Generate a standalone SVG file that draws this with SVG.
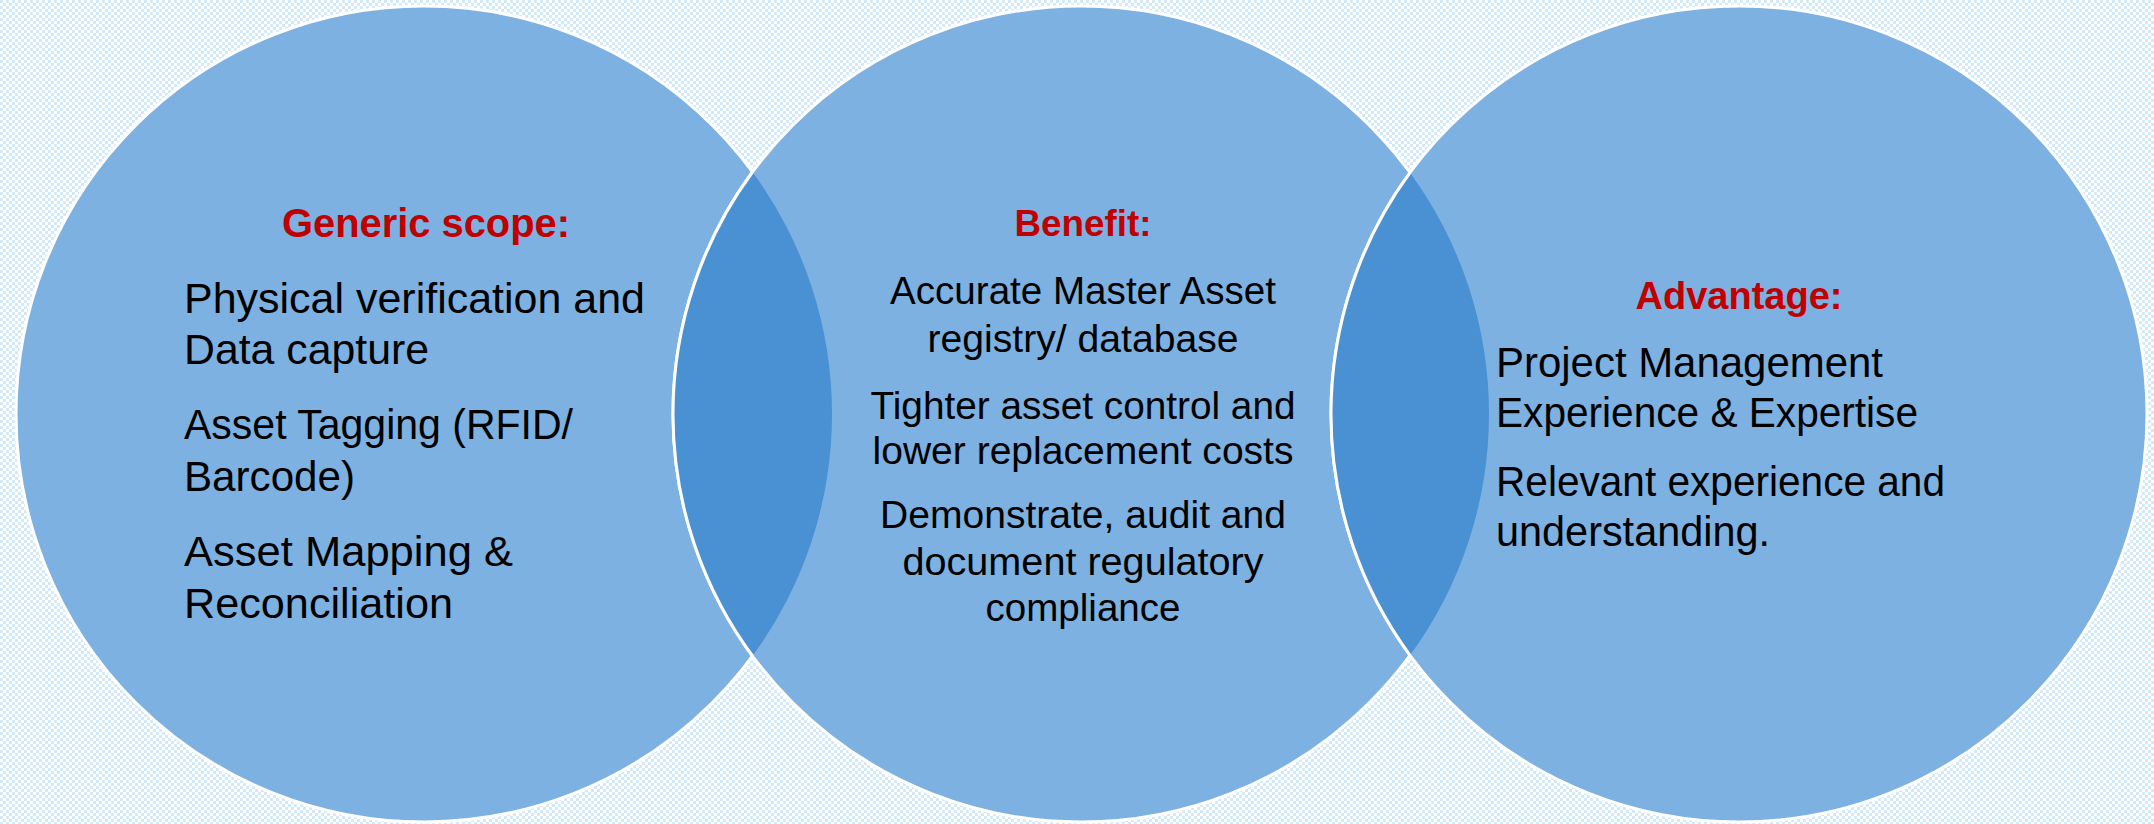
<svg xmlns="http://www.w3.org/2000/svg" width="2154" height="824" viewBox="0 0 2154 824">
  <defs>
    <pattern id="bgcheck" width="6" height="6" patternUnits="userSpaceOnUse">
      <rect width="6" height="6" fill="#ffffff"/>
      <rect width="3" height="3" fill="#d3e9f8"/>
      <rect x="3" y="3" width="3" height="3" fill="#d3e9f8"/>
    </pattern>
    <style>
      .circle { fill: #7db1e1; stroke: #ffffff; stroke-width: 3; }
      .lens { fill: #4a91d3; stroke: none; }
      .edge { fill: none; stroke: #ffffff; stroke-width: 3; }
      .head { font-family: "Liberation Sans", Arial, sans-serif; font-weight: bold; fill: #c00000; }
      .body { font-family: "Liberation Sans", Arial, sans-serif; fill: #000000; }
    </style>
  </defs>
  <rect width="2154" height="824" fill="url(#bgcheck)"/>

  <g id="circle-generic-scope">
    <circle class="circle" cx="424" cy="414" r="408"/>
  </g>
  <g id="circle-benefit">
    <circle class="circle" cx="1081" cy="414" r="408"/>
  </g>
  <g id="circle-advantage">
    <circle class="circle" cx="1739" cy="414" r="408"/>
  </g>

  <g id="overlaps">
    <path class="lens" d="M752.5,172 A408,408 0 0 0 752.5,656 A408,408 0 0 0 752.5,172 Z"/>
    <path class="edge" d="M752.5,172 A408,408 0 0 0 752.5,656"/>
    <path class="lens" d="M1410,172.7 A408,408 0 0 0 1410,655.3 A408,408 0 0 0 1410,172.7 Z"/>
    <path class="edge" d="M1410,172.7 A408,408 0 0 0 1410,655.3"/>
  </g>

  <g id="text-generic-scope">
    <text class="head" x="426" y="237" font-size="41" text-anchor="middle" textLength="288" lengthAdjust="spacingAndGlyphs">Generic scope:</text>
    <g class="body" font-size="43">
      <text x="184" y="313" textLength="461" lengthAdjust="spacingAndGlyphs">Physical verification and</text>
      <text x="184" y="364" textLength="245" lengthAdjust="spacingAndGlyphs">Data capture</text>
      <text x="184" y="439" textLength="389" lengthAdjust="spacingAndGlyphs">Asset Tagging (RFID/</text>
      <text x="184" y="491" textLength="171" lengthAdjust="spacingAndGlyphs">Barcode)</text>
      <text x="184" y="566" textLength="329" lengthAdjust="spacingAndGlyphs">Asset Mapping &amp;</text>
      <text x="184" y="618" textLength="269" lengthAdjust="spacingAndGlyphs">Reconciliation</text>
    </g>
  </g>

  <g id="text-benefit">
    <text class="head" x="1083" y="236" font-size="37" text-anchor="middle" textLength="137" lengthAdjust="spacingAndGlyphs">Benefit:</text>
    <g class="body" font-size="38" text-anchor="middle">
      <text x="1083" y="304" textLength="386" lengthAdjust="spacingAndGlyphs">Accurate Master Asset</text>
      <text x="1083" y="352" textLength="311" lengthAdjust="spacingAndGlyphs">registry/ database</text>
      <text x="1083" y="419" textLength="425" lengthAdjust="spacingAndGlyphs">Tighter asset control and</text>
      <text x="1083" y="464" textLength="421" lengthAdjust="spacingAndGlyphs">lower replacement costs</text>
      <text x="1083" y="528" textLength="406" lengthAdjust="spacingAndGlyphs">Demonstrate, audit and</text>
      <text x="1083" y="575" textLength="361" lengthAdjust="spacingAndGlyphs">document regulatory</text>
      <text x="1083" y="621" textLength="195" lengthAdjust="spacingAndGlyphs">compliance</text>
    </g>
  </g>

  <g id="text-advantage">
    <text class="head" x="1739" y="309" font-size="39" text-anchor="middle" textLength="207" lengthAdjust="spacingAndGlyphs">Advantage:</text>
    <g class="body" font-size="42">
      <text x="1496" y="377" textLength="387" lengthAdjust="spacingAndGlyphs">Project Management</text>
      <text x="1496" y="427" textLength="422" lengthAdjust="spacingAndGlyphs">Experience &amp; Expertise</text>
      <text x="1496" y="496" textLength="449" lengthAdjust="spacingAndGlyphs">Relevant experience and</text>
      <text x="1496" y="546" textLength="274" lengthAdjust="spacingAndGlyphs">understanding.</text>
    </g>
  </g>

  <g id="connectors"/>
</svg>
